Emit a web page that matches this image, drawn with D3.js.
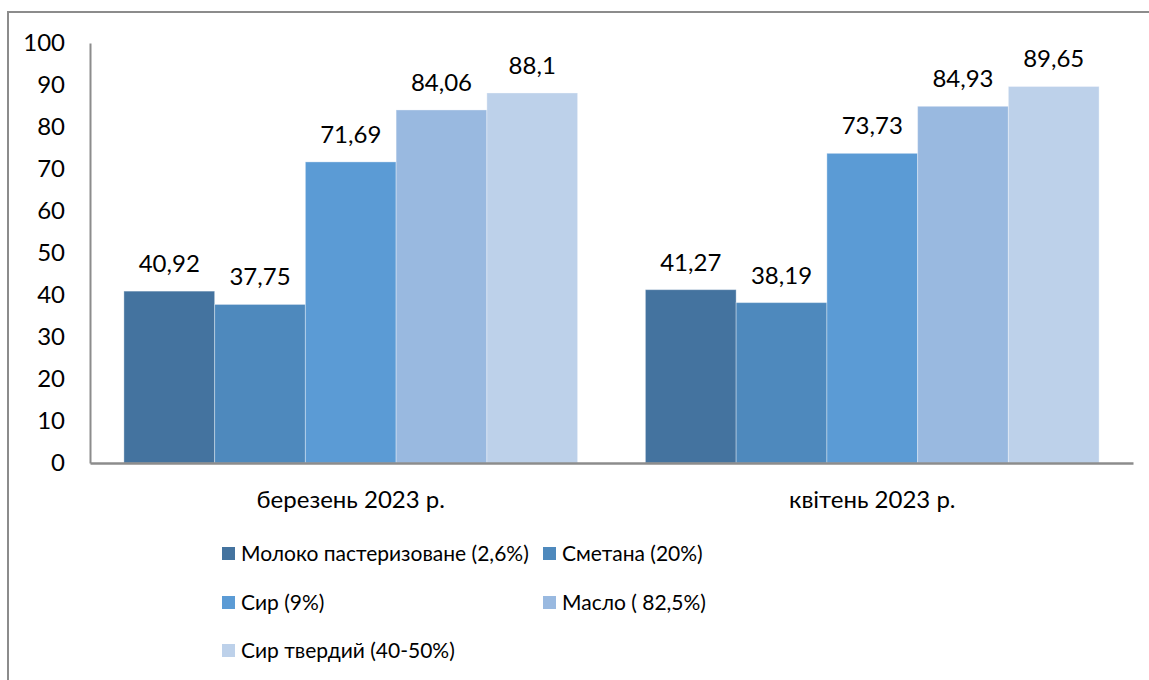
<!DOCTYPE html>
<html>
<head>
<meta charset="utf-8">
<script src="https://cdn.jsdelivr.net/npm/d3@7"></script>
<style>
  body { margin: 0; background: #fff; }
  svg text { font-family: Lato, "Open Sans", sans-serif; fill: #000; }
</style>
</head>
<body>
<div id="chart"></div>
<script>
// data
const categories = ['березень 2023 р.', 'квітень 2023 р.'];
const series = ['Молоко пастеризоване (2,6%)', 'Сметана (20%)', 'Сир (9%)', 'Масло ( 82,5%)', 'Сир твердий (40-50%)'];
const valuesMarch = [40.92, 37.75, 71.69, 84.06, 88.1];
const valuesApril = [41.27, 38.19, 73.73, 84.93, 89.65];
const yTicks = [0, 10, 20, 30, 40, 50, 60, 70, 80, 90, 100];

const colors = ['#44739f', '#4e89bd', '#5b9bd5', '#99b9e0', '#bdd1ea'];

const table = categories.map((c, i) => ({
  category: c,
  values: [valuesMarch, valuesApril][i].map((v, j) => ({ key: series[j], value: v }))
}));

const width = 1149, height = 680;
const margin = { top: 43, right: 16, bottom: 217, left: 90 };
const innerW = width - margin.left - margin.right;
const innerH = height - margin.top - margin.bottom;

const fmt = d3.formatLocale({ decimal: ',', thousands: ' ', grouping: [3], currency: ['', ''] }).format('~r');

const svg = d3.select('#chart').append('svg')
    .attr('width', width)
    .attr('height', height);

// outer frame
svg.append('rect')
    .attr('x', 8).attr('y', 12)
    .attr('width', width + 20).attr('height', height + 20)
    .attr('fill', 'none')
    .attr('stroke', '#8c8c8c')
    .attr('stroke-width', 2);

const chart = svg.append('g')
    .attr('transform', `translate(${margin.left},${margin.top})`);

const x0 = d3.scaleBand()
    .domain(categories)
    .range([0, innerW])
    .paddingInner(0.13)
    .paddingOuter(0.065);

const x1 = d3.scaleBand()
    .domain(series)
    .range([0, x0.bandwidth()]);

const y = d3.scaleLinear()
    .domain([0, 100])
    .range([innerH, 0]);

const color = d3.scaleOrdinal().domain(series).range(colors);

// bars
const groups = chart.selectAll('.group')
    .data(table)
    .join('g')
    .attr('class', 'group')
    .attr('transform', d => `translate(${x0(d.category)},0)`);

groups.selectAll('rect')
    .data(d => d.values)
    .join('rect')
    .attr('x', d => x1(d.key))
    .attr('y', d => y(d.value))
    .attr('width', x1.bandwidth())
    .attr('height', d => innerH - y(d.value))
    .attr('fill', d => color(d.key))
    .attr('stroke', 'rgba(255,255,255,0.35)')
    .attr('stroke-width', 1);

groups.selectAll('.label')
    .data(d => d.values)
    .join('text')
    .attr('class', 'label')
    .attr('x', d => x1(d.key) + x1.bandwidth() / 2)
    .attr('y', d => y(d.value) - 19)
    .attr('text-anchor', 'middle')
    .style('font-size', '24px')
    .text(d => fmt(d.value));

// y axis
const yAxis = d3.axisLeft(y)
    .tickValues(yTicks)
    .tickSize(0)
    .tickPadding(25)
    .tickFormat(d3.format('d'));

chart.append('g')
    .call(yAxis)
    .call(g => g.select('.domain').attr('stroke', '#8c8c8c').attr('stroke-width', 2))
    .call(g => g.selectAll('text').style('font-size', '24px').attr('fill', '#000'));

// x axis
const xAxis = d3.axisBottom(x0)
    .tickSize(0)
    .tickPadding(28);

chart.append('g')
    .attr('transform', `translate(0,${innerH})`)
    .call(xAxis)
    .call(g => g.select('.domain').attr('stroke', '#8c8c8c').attr('stroke-width', 2.5))
    .call(g => g.selectAll('text').style('font-size', '24px').attr('fill', '#000'));

// legend
const legendPos = [[222, 554], [543, 554], [222, 603], [543, 603], [222, 651]];
const legend = svg.append('g').attr('class', 'legend');
const item = legend.selectAll('.legend-item')
    .data(series)
    .join('g')
    .attr('class', 'legend-item')
    .attr('transform', (d, i) => `translate(${legendPos[i][0]},${legendPos[i][1]})`);

item.append('rect')
    .attr('x', 0).attr('y', -7)
    .attr('width', 13).attr('height', 13)
    .attr('fill', d => color(d));

item.append('text')
    .attr('x', 19)
    .attr('y', 0)
    .attr('dy', '0.35em')
    .style('font-size', '21px')
    .text(d => d);
</script>
</body>
</html>
